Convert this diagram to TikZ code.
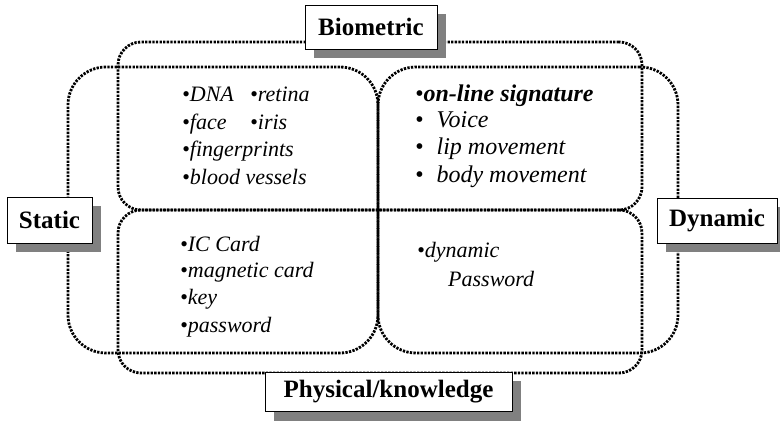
\documentclass[tikz,border=0pt]{standalone}
\usepackage{fontspec}
\setmainfont{Liberation Serif}
\usetikzlibrary{shadows}
\begin{document}
\begin{tikzpicture}[x=1pt,y=-1pt,
  regbox/.style={draw=black, line width=2.8pt, dash pattern=on 2.3pt off 1.3pt, inner sep=0pt, outer sep=0pt},
  lblbox/.style={draw=black, line width=0.9pt, fill=white, inner sep=0pt, outer sep=0pt,
    font=\fontsize{25}{30}\selectfont\bfseries,
    general shadow={shadow xshift=9pt, shadow yshift=-9pt, fill=black!50, draw=none}},
  item/.style={anchor=base west, inner sep=0pt, font=\fontsize{22}{27}\selectfont\itshape},
  itemb/.style={anchor=base west, inner sep=0pt, font=\fontsize{24}{29}\selectfont\itshape}
]
\useasboundingbox (0,0) rectangle (780,422);
% region boxes
\node[regbox, rounded corners=23pt, minimum width=524pt, minimum height=168pt] (bio) at (380,126) {};
\node[regbox, rounded corners=23pt, minimum width=524pt, minimum height=163pt] (phys) at (380,291.5) {};
\node[regbox, rounded corners=38pt, minimum width=310pt, minimum height=286pt] (stat) at (223,210) {};
\node[regbox, rounded corners=38pt, minimum width=300pt, minimum height=286pt] (dyn) at (528,210) {};
% labels
\node[lblbox, minimum width=132pt, minimum height=44pt] (bioL) at (371,27) {Biometric};
\node[lblbox, minimum width=85pt, minimum height=46pt] (statL) at (49.5,220) {Static};
\node[lblbox, minimum width=120pt, minimum height=45pt] (dynL) at (717,220.5) {Dynamic};
\node[lblbox, minimum width=247pt, minimum height=39pt] (physL) at (388.5,392) {Physical/knowledge};
% top-left items
\node[item] (t1) at (182,102) {•DNA};
\node[item] (t2) at (250,102) {•retina};
\node[item] (t3) at (182,130) {•face};
\node[item] (t4) at (250,130) {•iris};
\node[item] (t5) at (182,157) {•fingerprints};
\node[item] (t6) at (182,185) {•blood vessels};
% top-right items
\node[itemb] (r1) at (415,102) {•\textbf{on-line signature}};
\node[itemb] (r2) at (415,128) {•\hspace{13pt}Voice};
\node[itemb] (r3) at (415,155) {•\hspace{13pt}lip movement};
\node[itemb] (r4) at (415,183) {•\hspace{13pt}body movement};
% bottom-left items
\node[item] (b1) at (180,252) {•IC Card};
\node[item] (b2) at (180,278) {•magnetic card};
\node[item] (b3) at (180,305) {•key};
\node[item] (b4) at (180,333) {•password};
% bottom-right items
\node[item] (d1) at (417,258) {•dynamic};
\node[item] (d2) at (448,287) {Password};
\end{tikzpicture}
\end{document}
